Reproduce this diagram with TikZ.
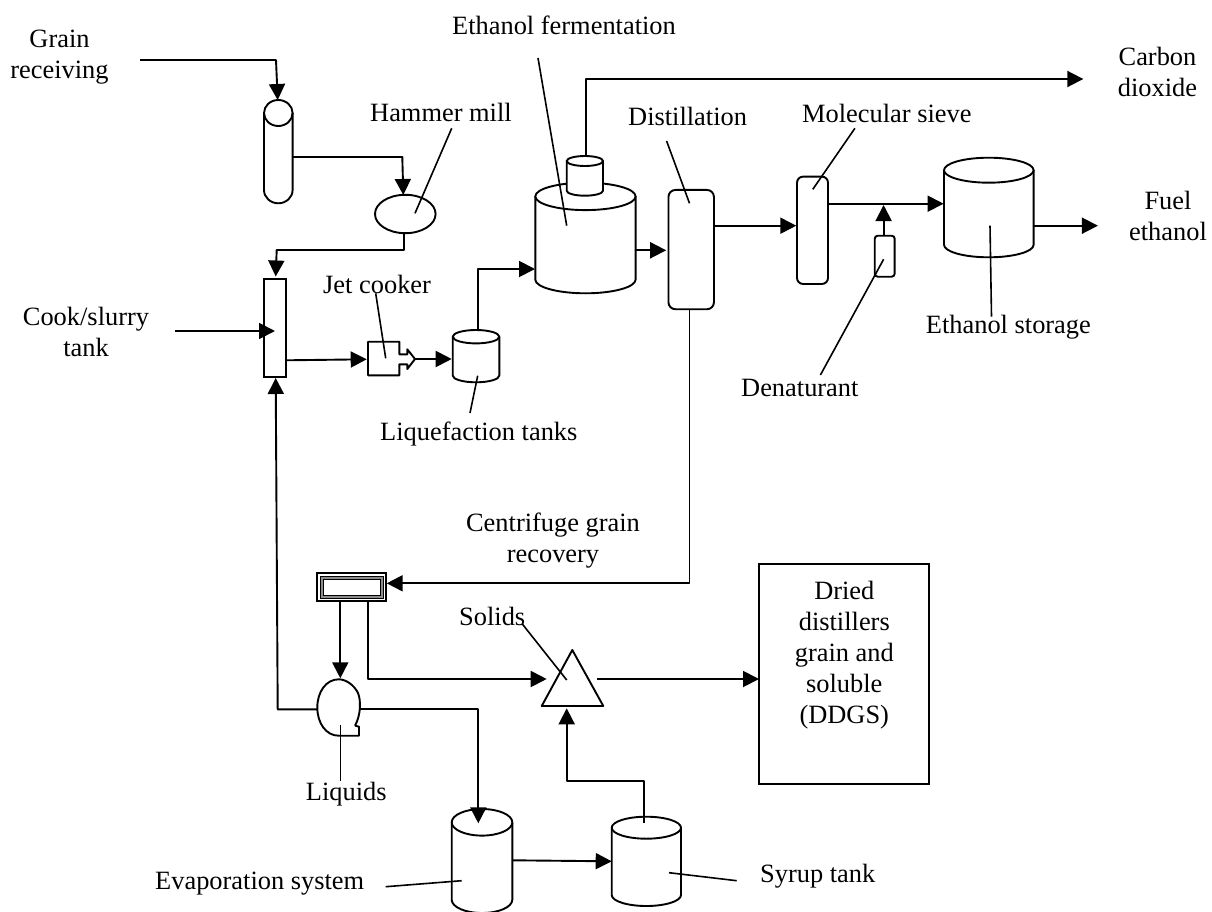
\documentclass[tikz,border=0pt]{standalone}
\usepackage{fontspec}
\setmainfont{Liberation Serif}
\usetikzlibrary{arrows.meta,shapes.geometric}
\tikzset{
  x=1pt,y=-1pt,
  line/.style={draw=black,line width=1.9pt,line join=round},
  flow/.style={line,-{Triangle[length=16pt,width=16pt]}},
  thin leader/.style={draw=black,line width=1.6pt},
  box/.style={draw=black,line width=1.9pt,inner sep=0pt,fill=white},
  ghost/.style={inner sep=0pt,draw=none},
  lab/.style={inner sep=0pt,anchor=base west,font=\fontsize{26.4}{31}\selectfont},
  mlab/.style={inner sep=0pt,anchor=base,align=center,font=\fontsize{26.4}{31}\selectfont},
}
% \cyl{name}{left}{right}{top}{bottom}{ry}
\newcommand{\cyl}[6]{%
  \pgfmathsetmacro{\cx}{(#2+#3)/2}\pgfmathsetmacro{\rx}{(#3-#2)/2}
  \pgfmathsetmacro{\cya}{#4+#6}\pgfmathsetmacro{\cyb}{#5-#6}\pgfmathsetmacro{\ch}{#5-#4}\pgfmathsetmacro{\cw}{#3-#2}
  \node[ghost,minimum width=\cw pt,minimum height=\ch pt] (#1) at (\cx,{(#4+#5)/2}) {};
  \draw[line,fill=white] (#2,\cya) -- (#2,\cyb) arc[start angle=180,end angle=360,x radius=\rx pt,y radius=#6 pt] -- (#3,\cya);
  \draw[line,fill=white] (\cx,\cya) ellipse[x radius=\rx pt,y radius=#6 pt];
}
\begin{document}
\begin{tikzpicture}
\useasboundingbox (0,0) rectangle (1212,912);
% equipment
\draw[line] (264,113) -- (264,190) arc[start angle=180,end angle=360,x radius=14.3pt,y radius=13.3pt] -- (292.6,113);
\node[ghost,minimum width=28.6pt,minimum height=103pt] (tube) at (278.3,151.6) {};
\draw[line] (278.3,113) ellipse[x radius=14.3pt,y radius=13pt];
\node[draw=black,line width=1.9pt,ellipse,inner sep=0pt,minimum width=60.6pt,minimum height=38.4pt] (mill) at (405.3,214) {};
\node[box,minimum width=22pt,minimum height=98.6pt] (cook) at (275,328) {};
\draw[line] (399.3,354.3) -- (399.3,341.7) -- (368,341.7) -- (368,375.3) -- (399.3,375.3) -- (399.3,364.3) -- (407.3,364.3) -- (407.3,369) -- (415,359) -- (407.3,349.3) -- (407.3,354.3) -- cycle;
\coordinate (jetout) at (415,359);
\coordinate (jetin) at (368,359);
\cyl{liq}{452.7}{499.3}{330}{382.3}{6.7}
\cyl{ferm}{535.3}{635.6}{182.7}{293.3}{13.7}
\cyl{vent}{566.7}{603}{156}{195.7}{5}
\node[box,rounded corners=7pt,minimum width=45.5pt,minimum height=119.3pt] (dist) at (691.2,249.6) {};
\node[box,rounded corners=6pt,minimum width=31pt,minimum height=107.3pt] (sieve) at (812.5,230.3) {};
\node[box,rounded corners=3pt,minimum width=19.9pt,minimum height=41pt] (den) at (884.7,256.2) {};
\cyl{stor}{944}{1033.6}{157.7}{257.3}{12.5}
\node[box,minimum width=68.7pt,minimum height=27.7pt] (cent) at (351.6,587.2) {};
\draw[draw=black,line width=1pt,fill=black!45] (320.5,576.5) rectangle (383,598);
\draw[draw=black,line width=1pt,fill=white] (323,579) rectangle (380.5,595.5);
\draw[line] (541.7,706) -- (572.3,650) -- (603.3,706) -- cycle;
\node[ghost,minimum width=61.6pt,minimum height=56pt] (sep) at (572.5,678) {};
\draw[line] (355,725.7) .. controls (361,715) and (361,700) .. (358,693) .. controls (354,685) and (346,679.3) .. (338.7,679.3) .. controls (326,679.3) and (317.3,692) .. (317.3,707.5) .. controls (317.3,723) and (326,735.7) .. (338.7,735.7) -- (359,735.7) -- (359,726.7) -- (355,725.7);
\node[ghost,minimum width=42.8pt,minimum height=56.4pt] (pump) at (338.7,707.5) {};
\cyl{evap}{451.7}{512.3}{809}{913}{13.3}
\cyl{syrup}{611.7}{681}{816.7}{906}{11}
\node[box,minimum width=170.3pt,minimum height=220.3pt] (ddgs) at (844.2,674.2) {};
% ports
\coordinate (a0) at (140,60); \coordinate (a1) at (276,60); \coordinate (a2) at (277.7,100);
\coordinate (b0) at (292.6,157); \coordinate (b1) at (402.3,157); \coordinate (b2) at (403.3,195);
\coordinate (c0) at (404,233); \coordinate (c1) at (404,250); \coordinate (c2) at (276.7,250); \coordinate (c3) at (275.7,276.5);
\coordinate (d0) at (175,331); \coordinate (d1) at (275,331);
\coordinate (e0) at (286,360.3); \coordinate (e1) at (366.7,359.3);
\coordinate (f1) at (451.7,359);
\coordinate (g0) at (477.7,330); \coordinate (g1) at (477.7,269); \coordinate (g2) at (535,269);
\coordinate (h0) at (586.2,156); \coordinate (h1) at (586.2,79); \coordinate (h2) at (1083.3,79);
\coordinate (i0) at (635.6,250.3); \coordinate (i1) at (666.2,250.3);
\coordinate (j0) at (714,225.7); \coordinate (j1) at (796.3,225.7);
\coordinate (k0) at (828,203.7); \coordinate (k1) at (943.6,203.7);
\coordinate (l0) at (883.6,235.7); \coordinate (l1) at (883.6,205);
\coordinate (m0) at (1033.6,225.7); \coordinate (m1) at (1097.9,225.7);
\coordinate (n0) at (689.5,309.3); \coordinate (n1) at (689.5,583.3); \coordinate (n2) at (386.7,583.3);
\coordinate (o0) at (340.3,601); \coordinate (o1) at (340.3,678.3);
\coordinate (p0) at (367.7,601); \coordinate (p1) at (367.7,679); \coordinate (p2) at (546.7,679);
\coordinate (q0) at (597.3,679); \coordinate (q1) at (759,679);
\coordinate (r0) at (317.3,709.3); \coordinate (r1) at (277.7,709.3); \coordinate (r2) at (275.7,378);
\coordinate (s0) at (360,709.3); \coordinate (s1) at (478.3,709.3); \coordinate (s2) at (478.3,823.3);
\coordinate (t0) at (512.3,860.3); \coordinate (t1) at (611.7,861.3);
\coordinate (u0) at (644.3,823.3); \coordinate (u1) at (644.3,780.7); \coordinate (u2) at (566.7,780.7); \coordinate (u3) at (566.7,708.3);
% connectors
\draw[flow] (a0) -- (a1) -- (a2);
\draw[flow] (b0) -- (b1) -- (b2);
\draw[flow] (c0) -- (c1) -- (c2) -- (c3);
\draw[flow] (d0) -- (d1);
\draw[flow] (e0) -- (e1);
\draw[flow] (jetout) -- (f1);
\draw[flow] (g0) -- (g1) -- (g2);
\draw[flow] (h0) -- (h1) -- (h2);
\draw[flow] (i0) -- (i1);
\draw[flow] (j0) -- (j1);
\draw[flow] (k0) -- (k1);
\draw[flow] (l0) -- (l1);
\draw[flow] (m0) -- (m1);
\draw[flow] (n0) -- (n1) -- (n2);
\draw[flow] (o0) -- (o1);
\draw[flow] (p0) -- (p1) -- (p2);
\draw[flow] (q0) -- (q1);
\draw[flow] (r0) -- (r1) -- (r2);
\draw[flow] (s0) -- (s1) -- (s2);
\draw[flow] (t0) -- (t1);
\draw[flow] (u0) -- (u1) -- (u2) -- (u3);
% labels
\node[mlab] (tgrain) at (59.5,78.3) {Grain\\receiving};
\node[lab] (tham) at (370,121.7) {Hammer mill};
\node[lab] (tferm) at (452,34.5) {Ethanol fermentation};
\node[mlab] (tco) at (1157.5,96.7) {Carbon\\dioxide};
\node[lab] (tdist) at (628,125.7) {Distillation};
\node[lab] (tmol) at (802,122.7) {Molecular sieve};
\node[mlab] (tfuel) at (1168,240) {Fuel\\ethanol};
\node[mlab] (tcook) at (86,356) {Cook/slurry\\tank};
\node[lab] (tjet) at (323,293) {Jet cooker};
\node[lab] (tliq) at (380,440) {Liquefaction tanks};
\node[lab] (tden) at (741,396) {Denaturant};
\node[lab] (tstor) at (925.7,333) {Ethanol storage};
\node[mlab] (tcent) at (553,562) {Centrifuge grain\\recovery};
\node[lab] (tsol) at (459,625) {Solids};
\node[lab] (tliqd) at (305.7,800.7) {Liquids};
\node[lab] (tevap) at (155,889) {Evaporation system};
\node[lab] (tsyr) at (760,882) {Syrup tank};
\node[mlab] (tddgs) at (844.3,723) {Dried\\distillers\\grain and\\soluble\\(DDGS)};
% leaders
\coordinate (v0) at (451.7,128.3); \coordinate (v1) at (415,213.3);
\coordinate (v2) at (375.7,293.3); \coordinate (v3) at (385.7,358.3);
\coordinate (v4) at (477.7,375.7); \coordinate (v5) at (470,413);
\coordinate (v6) at (538,58); \coordinate (v7) at (566.7,225.7);
\coordinate (v8) at (666.6,141); \coordinate (v9) at (689.5,203.3);
\coordinate (w0) at (854.9,128.3); \coordinate (w1) at (812.8,189.3);
\coordinate (w2) at (883.6,259.3); \coordinate (w3) at (820.4,375);
\coordinate (w4) at (990,225.7); \coordinate (w5) at (991.5,316.7);
\coordinate (w6) at (522.3,624); \coordinate (w7) at (566.7,680);
\coordinate (w8) at (340.3,725); \coordinate (w9) at (340.3,780.7);
\coordinate (x0) at (385.7,886.7); \coordinate (x1) at (461.7,880.7);
\coordinate (x2) at (669,872.7); \coordinate (x3) at (736.7,880.7);
\foreach \p/\q in {v0/v1,v2/v3,v4/v5,v6/v7,v8/v9,w0/w1,w2/w3,w4/w5,w6/w7,w8/w9,x0/x1,x2/x3}
  \draw[thin leader] (\p) -- (\q);
\end{tikzpicture}
\end{document}
